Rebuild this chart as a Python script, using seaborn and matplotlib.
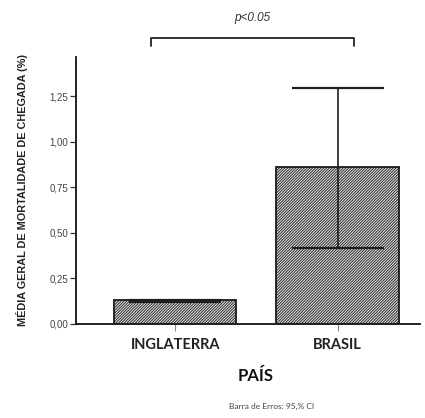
import matplotlib
matplotlib.use("Agg")
import matplotlib.pyplot as plt
import seaborn as sns
import pandas as pd
from matplotlib.patches import Rectangle

# ---- data ----
paises = ["INGLATERRA", "BRASIL"]
medias = [0.13, 0.86]
ic_inf = [0.121, 0.415]
ic_sup = [0.131, 1.298]
yticks = [0.0, 0.25, 0.5, 0.75, 1.0, 1.25]
ytick_labels = ["0,00", "0,25", "0,50", "0,75", "1,00", "1,25"]
ylabel = "MÉDIA GERAL DE MORTALIDADE DE CHEGADA (%)"
xlabel = "PAÍS"
nota = "Barra de Erros: 95,% CI"
sig = "p<0.05"

sns.set_theme(style="ticks")
plt.rcParams['font.family'] = ['Liberation Sans', 'DejaVu Sans']
plt.rcParams['hatch.linewidth'] = 0.8

fig = plt.figure(figsize=(4.25, 4.18), dpi=100)
ax = fig.add_axes([0.179, 0.225, 0.81, 0.639])

df = pd.DataFrame({"pais": paises, "media": medias})
sns.barplot(data=df, x="pais", y="media", order=paises, color="#f4f4f4",
            width=0.753, errorbar=None, ax=ax, hatch='/' * 12,
            edgecolor='#383838', linewidth=0, saturation=1)

for p in list(ax.patches):
    ax.add_patch(Rectangle(p.get_xy(), p.get_width(), p.get_height(),
                           fill=False, edgecolor='#1a1a1a', lw=1.3, zorder=3))

xs = list(range(len(paises)))
yerr = [[m - l for m, l in zip(medias, ic_inf)], [u - m for m, u in zip(medias, ic_sup)]]
ax.errorbar(xs, medias, yerr=yerr, fmt='none', ecolor='#1e1e1e', elinewidth=1.2,
            capsize=33, capthick=1.6, zorder=4)

ax.set_xlim(-0.611, 1.51)
ax.set_ylim(0, 1.467)
ax.set_yticks(yticks)
ax.set_yticklabels(ytick_labels)

sns.despine(ax=ax)
for s in ['left', 'bottom']:
    ax.spines[s].set_color('#111111')
    ax.spines[s].set_linewidth(1.3)

ax.tick_params(axis='y', length=4.5, width=0.9, color='#333333', pad=1,
               labelsize=7, labelcolor='#444444')
ax.tick_params(axis='x', length=5, width=0.8, color='#888888', pad=5,
               labelsize=10.5)
for t in ax.get_xticklabels():
    t.set_fontfamily(['Lato', 'DejaVu Sans'])
    t.set_fontweight('bold')
    t.set_color('#222222')

ax.set_ylabel(ylabel, fontsize=7.8, fontweight='bold', color='#222222')
ax.yaxis.set_label_coords(-0.14, 0.5)
ax.set_xlabel(xlabel, fontsize=12, fontweight='bold', color='#111111',
              fontfamily=['Lato', 'DejaVu Sans'])
ax.xaxis.set_label_coords(0.523, -0.165)

# significance bracket
x0, x1 = xs[0] - 0.148, xs[1] + 0.099
yb, yt = 1.524, 1.573
ax.plot([x0, x0, x1, x1], [yb, yt, yt, yb], color='#222222', lw=1.3,
        clip_on=False)
ax.text((x0 + x1) / 2, 1.68, sig, ha='center', va='center', fontsize=8.5,
        style='italic', color='#333333', clip_on=False)

fig.text(272 / 425, 1 - 406 / 418, nota, ha='center', va='center', fontsize=6,
         color='#444444', fontfamily=['Lato', 'DejaVu Sans'])

fig.savefig("out.png", dpi=100)
